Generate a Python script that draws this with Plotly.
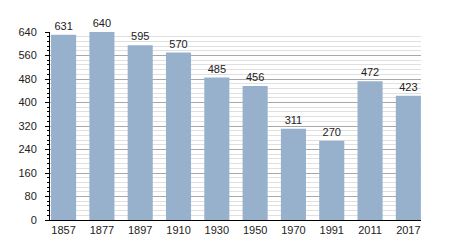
import plotly.graph_objects as go

years = ["1857", "1877", "1897", "1910", "1930", "1950", "1970", "1991", "2011", "2017"]
population = [631, 640, 595, 570, 485, 456, 311, 270, 472, 423]
y_ticks = [0, 80, 160, 240, 320, 400, 480, 560, 640]

fig = go.Figure(go.Bar(
    x=years, y=population,
    marker=dict(color="#97b1cd", line=dict(width=0)),
    text=[str(v) for v in population], textposition="outside",
    textfont=dict(size=11, color="#222", family="Liberation Sans, Arial"),
    cliponaxis=False,
))

fig.update_layout(
    width=450, height=250,
    margin=dict(l=50, r=29, t=32, b=30),
    paper_bgcolor="white", plot_bgcolor="white",
    bargap=0.345, showlegend=False,
    font=dict(family="Liberation Sans, Arial", size=11, color="#222"),
    xaxis=dict(type="category", range=[-0.355, 9.33], showline=True, linecolor="black", linewidth=1,
               ticks="", showgrid=False, tickfont=dict(size=11)),
    yaxis=dict(range=[0, 640], tickvals=y_ticks, showline=True, linecolor="black", linewidth=1,
               ticks="outside", ticklen=4, tickcolor="black", ticklabelstandoff=6,
               gridcolor="#a8a8a8", gridwidth=1, zeroline=False,
               tickfont=dict(size=11),
               minor=dict(dtick=16, tick0=0, ticks="outside", ticklen=2, tickcolor="black",
                          showgrid=True, gridcolor="#e0e0e0", gridwidth=1)),
)

fig.write_html("out.html")
